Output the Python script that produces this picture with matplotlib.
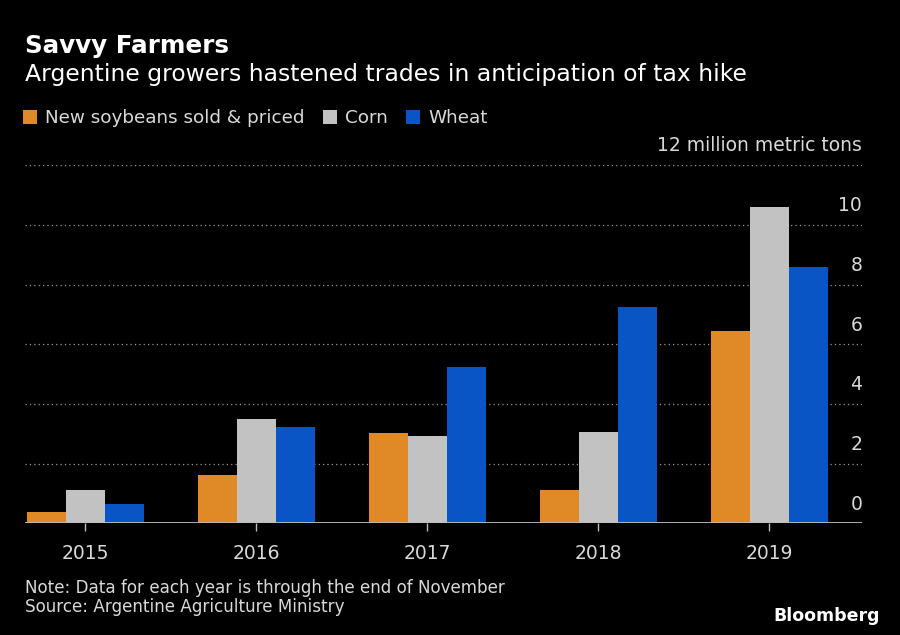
import numpy as np
import matplotlib
matplotlib.use("Agg")
import matplotlib.pyplot as plt
from matplotlib.patches import Patch
from matplotlib import transforms

# data (million metric tons)
years = ["2015", "2016", "2017", "2018", "2019"]
soybeans = [0.37, 1.62, 3.02, 1.12, 6.43]
corn = [1.11, 3.49, 2.93, 3.07, 10.61]
wheat = [0.65, 3.24, 5.24, 7.26, 8.59]
series_names = ["New soybeans sold & priced", "Corn", "Wheat"]
yticks = [0, 2, 4, 6, 8, 10, 12]

colors = ["#df8a26", "#c2c2c2", "#0a55c6"]
text_color = "#d9d9d9"
bg = "black"

plt.rcParams["font.family"] = ["DejaVu Sans"]

fig = plt.figure(figsize=(9, 6.35), dpi=100, facecolor=bg)
ax = fig.add_axes([0.028, 0.1756, 0.930, 0.5645])
ax.set_facecolor(bg)

x = np.arange(len(years))
w = 0.228
for i, (vals, c) in enumerate(zip([soybeans, corn, wheat], colors)):
    ax.bar(x + (i - 1) * w, vals, width=w, color=c, zorder=3, linewidth=0)

ax.set_xlim(-0.351, 4.544)
ax.set_ylim(0, 12)

# dotted gridlines
for v in yticks[1:]:
    ax.axhline(v, color="#9a9a9a", linestyle=(0, (1, 2.5)), linewidth=0.9, zorder=1)
ax.axhline(0, color="#bdbdbd", linewidth=1.3, zorder=4)

for s in ax.spines.values():
    s.set_visible(False)

ax.set_yticks([])
ax.set_xticks(x)
ax.set_xticklabels(years, color=text_color, fontsize=13.5)
ax.tick_params(axis="x", length=6, width=1, color="#bdbdbd", pad=9)

# y labels sit above their gridlines, right aligned
off = transforms.offset_copy(ax.get_yaxis_transform(), fig=fig, x=0, y=7, units="points")
for v in yticks[:-1]:
    ax.text(1.0, v, str(v), transform=off, ha="right", va="bottom",
            color=text_color, fontsize=13.5)
ax.text(1.0, 12, "12 million metric tons", transform=off, ha="right", va="bottom",
        color=text_color, fontsize=13.5)

# titles
fig.text(0.028, 0.917, "Savvy Farmers", color="white", fontsize=17.7, fontweight="bold",
         va="baseline")
fig.text(0.028, 0.873, "Argentine growers hastened trades in anticipation of tax hike",
         color="white", fontsize=16.9, va="baseline")

handles = [Patch(facecolor=c, edgecolor="none") for c in colors]
leg = fig.legend(handles, series_names, loc="upper left", bbox_to_anchor=(0.026, 0.828),
                 ncol=3, frameon=False, fontsize=13.2, handlelength=0.75, handleheight=0.75,
                 handletextpad=0.45, columnspacing=1.0, borderaxespad=0, borderpad=0)
for t in leg.get_texts():
    t.set_color(text_color)

# footer
fig.text(0.028, 0.066, "Note: Data for each year is through the end of November",
         color=text_color, fontsize=12.1, va="baseline")
fig.text(0.028, 0.036, "Source: Argentine Agriculture Ministry",
         color=text_color, fontsize=12.1, va="baseline")
fig.text(0.978, 0.022, "Bloomberg", color="white", fontsize=12.5, fontweight="bold",
         ha="right", va="baseline")

fig.savefig("out.png", dpi=100, facecolor=bg)
